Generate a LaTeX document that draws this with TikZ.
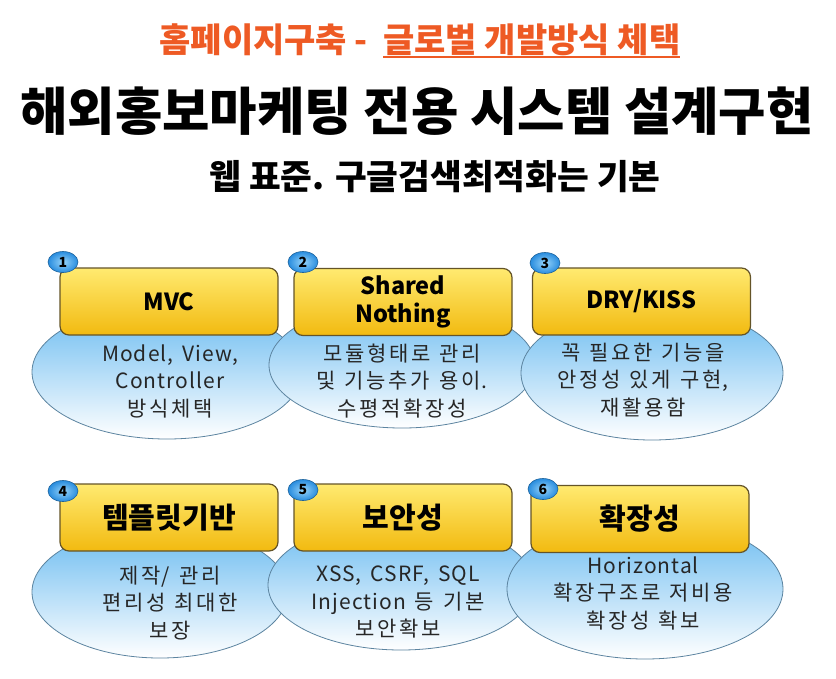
\documentclass[tikz,border=0pt]{standalone}
\usepackage{fontspec}
\setmainfont{Noto Sans CJK KR}
\usetikzlibrary{shapes.geometric}
\definecolor{titleOrange}{RGB}{238,90,36}
\definecolor{boxTop}{RGB}{255,234,112}
\definecolor{boxBottom}{RGB}{242,186,16}
\definecolor{boxLine}{RGB}{100,84,40}
\definecolor{bubbleTop}{RGB}{104,186,240}
\definecolor{bubbleLine}{RGB}{92,132,160}
\definecolor{badgeInner}{RGB}{150,212,250}
\definecolor{badgeOuter}{RGB}{40,140,222}
\newcommand{\boxWidth}{218pt}
\newcommand{\boxHeight}{67pt}
\newcommand{\titleUnderline}[1]{\setbox0=\hbox{#1}\rlap{\rule[-5.5pt]{\wd0}{2.2pt}}\box0}
% extra space between hangul syllables
\XeTeXinterchartokenstate=1
\newXeTeXintercharclass\hangulClass
\newcount\hangulCode
\hangulCode="AC00
\loop \XeTeXcharclass\hangulCode=\hangulClass \advance\hangulCode by 1
  \ifnum\hangulCode<"D7A4 \repeat
\newlength{\hangulGap}
\XeTeXinterchartoks\hangulClass\hangulClass={\hskip\hangulGap}
\newcommand{\bubbleFont}{\fontsize{21}{27.5}\selectfont\addfontfeature{LetterSpace=5}%
  \setlength{\hangulGap}{2.7pt}\spaceskip=0.42em\relax}

\begin{document}
\begin{tikzpicture}[x=1pt, y=-1pt,
    headBox/.style={rectangle, rounded corners=9pt, draw=boxLine, line width=1.2pt,
      top color=boxTop, bottom color=boxBottom, minimum width=\boxWidth,
      minimum height=\boxHeight, align=center, inner sep=0pt},
    headText/.style={font=\bfseries\fontsize{23.5}{28}\selectfont},
    headKorean/.style={font=\bfseries\fontsize{29}{30}\selectfont},
    bubble/.style={ellipse, draw=bubbleLine, line width=0.8pt, top color=bubbleTop,
      bottom color=white, inner sep=0pt},
    bubbleText/.style={align=center, text=black!85, font=\bubbleFont},
    numBadge/.style={ellipse, draw=badgeOuter!70!black, line width=0.6pt,
      inner color=badgeInner, outer color=badgeOuter,
      minimum width=30pt, minimum height=21pt, inner sep=0pt,
      font=\bfseries\fontsize{14}{14}\selectfont}]
  \useasboundingbox (0,0) rectangle (836,678);

  % titles
  \node (pageTitle) at (420,41) [text=titleOrange, font=\bfseries\fontsize{34}{36}\selectfont]
    {홈페이지구축 -\hspace{0.45em}\titleUnderline{글로벌 개발방식 체택}};
  \node (mainTitle) at (417,111) [font=\bfseries\fontsize{51.5}{53}\selectfont]
    {해외홍보마케팅 전용 시스템 설계구현};
  \node (subTitle) at (435,177) [font=\bfseries\fontsize{34.5}{37}\selectfont]
    {웹 표준. 구글검색최적화는 기본};

  % first row
  \node (bubble1) at (167,372) [bubble, minimum width=270pt, minimum height=134pt] {};
  \node (bubble2) at (402,365) [bubble, minimum width=266pt, minimum height=126pt] {};
  \node (bubble3) at (652,373) [bubble, minimum width=262pt, minimum height=134pt] {};
  \node (note1) at (170,381) [bubbleText] {Model, View,\\Controller\\방식체택};
  \node (note2) at (402,381) [bubbleText] {모듈형태로 관리\\및 기능추가 용이.\\수평적확장성};
  \node (note3) at (643,380) [bubbleText] {꼭 필요한 기능을\\안정성 있게 구현,\\재활용함};
  \node (box1) at (169,301.5) [headBox, headText] {MVC};
  \node (box2) at (403,302) [headBox, headText] {Shared\\Nothing};
  \node (box3) at (641.5,301.5) [headBox, headText] {DRY/KISS};
  \node (num1) at (63,262) [numBadge] {1};
  \node (num2) at (303,262) [numBadge] {2};
  \node (num3) at (545,263) [numBadge] {3};

  % second row
  \node (bubble4) at (160,592) [bubble, minimum width=256pt, minimum height=132pt] {};
  \node (bubble5) at (401,585) [bubble, minimum width=266pt, minimum height=130pt] {};
  \node (bubble6) at (645,589) [bubble, minimum width=276pt, minimum height=140pt] {};
  \node (note4) at (170,603) [bubbleText] {제작/ 관리\\편리성 최대한\\보장};
  \node (note5) at (398,602) [bubbleText] {XSS, CSRF, SQL\\Injection 등 기본\\보안확보};
  \node (note6) at (643,593) [bubbleText] {Horizontal\\확장구조로 저비용\\확장성 확보};
  \node (box4) at (169,517.5) [headBox, headKorean] {템플릿기반};
  \node (box5) at (403,517.5) [headBox, headKorean] {보안성};
  \node (box6) at (640,519) [headBox, headKorean] {확장성};
  \node (num4) at (63,491) [numBadge] {4};
  \node (num5) at (303,490) [numBadge] {5};
  \node (num6) at (543,489) [numBadge] {6};
\end{tikzpicture}
\end{document}
